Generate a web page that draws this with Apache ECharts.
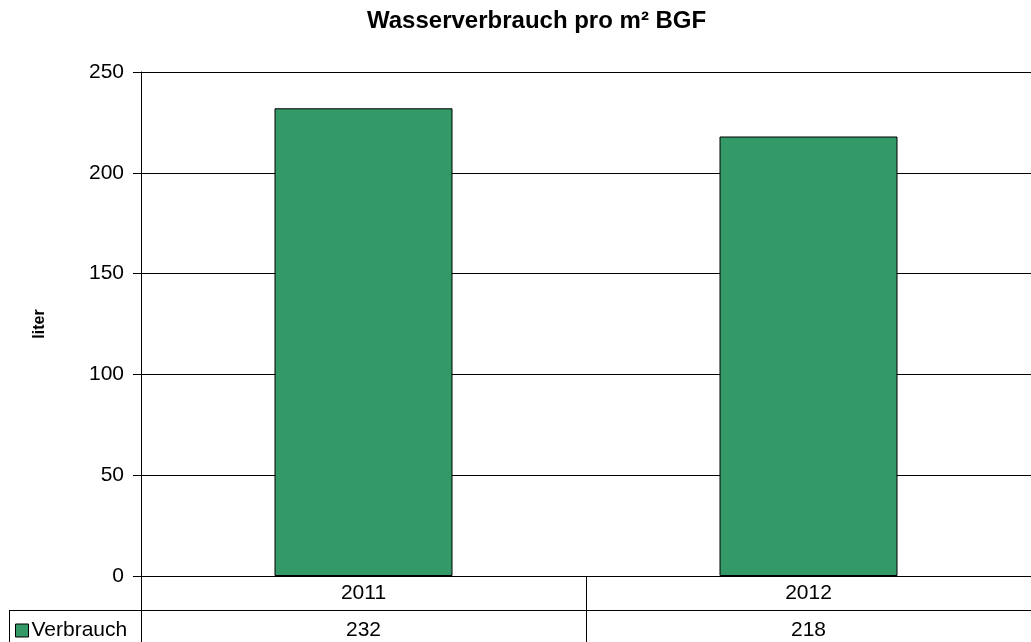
<!DOCTYPE html>
<html>
<head>
<meta charset="utf-8">
<script src="https://cdn.jsdelivr.net/npm/echarts@6/dist/echarts.min.js"></script>
<style>
  html, body { margin: 0; padding: 0; background: #fff; }
  #chart { width: 1031px; height: 642px; }
</style>
</head>
<body>
<div id="chart"></div>
<script>
// Daten
var jahre = ['2011', '2012'];
var verbrauch = [232, 218];
var yTicks = [0, 50, 100, 150, 200, 250];

var myChart = echarts.init(document.getElementById('chart'));
var schrift = 'Liberation Sans, Arial, sans-serif';

var option = {
    animation: false,
    title: {
        text: 'Wasserverbrauch pro m² BGF',
        left: 362,
        top: 4,
        textStyle: { fontFamily: schrift, fontSize: 24, fontWeight: 'bold', color: '#000' }
    },
    legend: {
        data: ['Verbrauch'],
        left: 10,
        top: 615,
        icon: 'rect',
        itemWidth: 13,
        itemHeight: 13,
        itemGap: 4,
        textStyle: { fontFamily: schrift, fontSize: 21, color: '#000', padding: [0, 0, 0, -2] },
        itemStyle: { borderColor: '#000', borderWidth: 1 }
    },
    grid: { left: 141, right: -4, top: 72, bottom: 66 },
    xAxis: [{
        type: 'category',
        data: jahre,
        axisLine: { show: true, lineStyle: { color: '#000', width: 1 } },
        axisTick: { show: true, inside: false, length: 70, lineStyle: { color: '#000' } },
        axisLabel: { fontFamily: schrift, fontSize: 21, color: '#000', margin: 7 }
    }, {
        // Wertezeile der Datentabelle
        type: 'category',
        position: 'bottom',
        offset: 37,
        data: verbrauch.map(String),
        axisLine: { show: false },
        axisTick: { show: false },
        axisLabel: { fontFamily: schrift, fontSize: 21, color: '#000', margin: 7 }
    }],
    yAxis: {
        type: 'value',
        min: 0,
        max: 250,
        interval: 50,
        name: 'liter',
        nameLocation: 'middle',
        nameGap: 93,
        nameTextStyle: { fontFamily: schrift, fontSize: 16, fontWeight: 'bold', color: '#000' },
        axisLine: { show: true, lineStyle: { color: '#000' } },
        axisTick: { show: true, length: 8, lineStyle: { color: '#000' } },
        axisLabel: { fontFamily: schrift, fontSize: 21, color: '#000', margin: 17 },
        splitLine: { show: true, lineStyle: { color: '#000', width: 1 } }
    },
    graphic: [
        { type: 'line', shape: { x1: 9, y1: 610.5, x2: 1031, y2: 610.5 }, style: { stroke: '#000', lineWidth: 1 } },
        { type: 'line', shape: { x1: 9.5, y1: 610, x2: 9.5, y2: 642 }, style: { stroke: '#000', lineWidth: 1 } }
    ],
    series: [{
        name: 'Verbrauch',
        type: 'bar',
        xAxisIndex: 0,
        data: verbrauch,
        barWidth: '40%',
        itemStyle: { color: '#339966', borderColor: '#000', borderWidth: 1 }
    }]
};

myChart.setOption(option);
</script>
</body>
</html>
